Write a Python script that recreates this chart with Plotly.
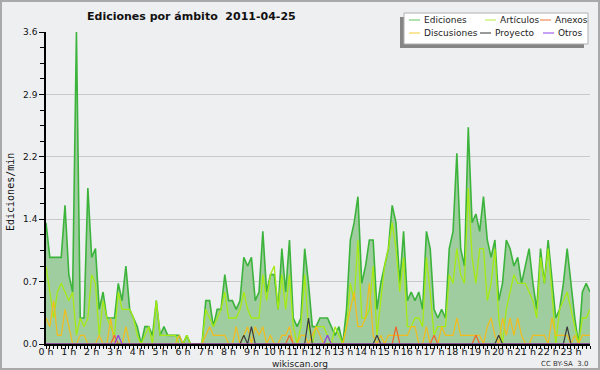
import plotly.graph_objects as go

# 10-minute slots, values in edits/min
ediciones = [1.4,1.0,1.0,1.0,1.0,1.6,0.8,0.6,3.6,0.3,0.3,1.8,1.0,1.1,0.4,0.6,0.3,0.3,0.3,0.7,0.5,0.9,0.4,0.3,
             0.2,0.0,0.2,0.2,0.1,0.5,0.1,0.2,0.1,0.1,0.1,0.1,0.0,0.1,0.0,0.0,0.0,0.0,0.5,0.5,0.2,0.4,0.4,0.8,
             0.5,0.5,0.4,0.5,1.0,0.9,1.0,0.5,0.6,1.3,0.6,0.8,0.8,0.4,1.1,0.6,1.2,0.3,0.2,0.3,1.1,0.7,0.2,0.2,
             0.3,0.3,0.3,0.2,0.1,0.2,0.0,0.4,1.2,1.4,1.7,0.7,0.9,1.2,1.2,0.4,0.7,0.9,1.1,1.6,1.4,0.7,1.3,0.5,
             0.6,0.5,0.6,0.4,1.3,1.1,0.4,0.3,0.4,0.3,1.1,1.3,2.2,1.1,0.9,2.5,1.4,1.5,1.3,1.7,1.2,1.0,1.2,0.5,
             0.7,1.2,1.1,0.9,1.0,0.7,0.9,1.1,0.7,0.4,1.1,0.7,1.2,0.7,0.3,0.4,0.7,1.1,0.7,0.3,0.0,0.6,0.7,0.6]
articulos = [0.9,0.6,0.3,0.6,0.7,0.6,0.5,0.6,0.1,0.3,0.2,0.3,0.8,0.7,0.1,0.5,0.3,0.2,0.1,0.6,0.4,0.4,0.4,0.3,
             0.1,0.0,0.1,0.2,0.0,0.5,0.1,0.1,0.1,0.1,0.1,0.0,0.0,0.1,0.0,0.0,0.0,0.0,0.4,0.3,0.2,0.3,0.4,0.6,
             0.3,0.3,0.3,0.4,0.6,0.4,0.3,0.3,0.3,0.8,0.5,0.8,0.9,0.4,0.8,0.4,0.8,0.2,0.0,0.2,0.8,0.2,0.0,0.2,
             0.2,0.2,0.1,0.0,0.2,0.1,0.0,0.2,0.7,0.5,1.2,0.3,0.3,0.4,0.9,0.1,0.5,0.9,1.1,1.4,1.1,0.6,1.0,0.2,
             0.2,0.3,0.3,0.2,1.0,0.6,0.1,0.2,0.2,0.2,0.8,0.7,1.1,0.8,0.7,1.8,1.0,0.7,1.1,1.1,0.5,0.7,1.1,0.3,
             0.0,0.4,0.6,0.8,0.7,0.7,0.7,0.6,0.5,0.3,1.0,0.7,1.1,0.6,0.0,0.4,0.5,0.6,0.4,0.2,0.0,0.3,0.3,0.4]
anexos = [0.0]*18 + [0.1] + [0.0]*45 + [0.1] + [0.0]*27 + [0.2] + [0.0]*9 + [0.1] + [0.0]*10 + [0.1] + [0.0]*30
discusiones = [0.3,0.2,0.5,0.1,0.1,0.4,0.2,0.0,0.0,0.1,0.1,0.0,0.0,0.0,0.1,0.0,0.0,0.3,0.0,0.0,0.0,0.2,0.0,0.0,
               0.0,0.0,0.0,0.0,0.0,0.0,0.0,0.0,0.0,0.0,0.0,0.1,0.0,0.0,0.0,0.0,0.0,0.0,0.1,0.2,0.1,0.1,0.1,0.1,
               0.0,0.0,0.2,0.0,0.1,0.2,0.0,0.2,0.1,0.2,0.0,0.1,0.0,0.0,0.1,0.1,0.2,0.0,0.0,0.1,0.1,0.0,0.1,0.2,
               0.1,0.0,0.0,0.0,0.0,0.0,0.0,0.2,0.4,0.6,0.2,0.2,0.3,0.7,0.1,0.0,0.1,0.0,0.1,0.1,0.1,0.1,0.1,0.1,
               0.2,0.2,0.0,0.0,0.2,0.0,0.0,0.0,0.2,0.1,0.1,0.1,0.3,0.1,0.1,0.1,0.1,0.1,0.1,0.0,0.2,0.3,0.1,0.0,
               0.3,0.1,0.3,0.1,0.3,0.1,0.0,0.0,0.1,0.1,0.1,0.1,0.0,0.3,0.1,0.1,0.1,0.1,0.0,0.1,0.0,0.1,0.1,0.1]
proyecto = [0.0]*52 + [0.1,0.0,0.2] + [0.0]*14 + [0.3] + [0.0]*17 + [0.1] + [0.0]*31 + [0.1] + [0.0]*17 + [0.2] + [0.0]*6
otros = [0.0]*19 + [0.1] + [0.0]*54 + [0.1] + [0.0]*69

hours = [i / 6 for i in range(len(ediciones))]
tick_hours = list(range(24))
tick_labels = [f"{h} h" for h in tick_hours]
y_ticks = [0, 0.72, 1.44, 2.16, 2.88, 3.6]
y_labels = ["0.0", "0.7", "1.4", "2.2", "2.9", "3.6"]

W, H = 600, 370
L, R, T, B = 46, 10, 32, 26
PW, PH = W - L - R, H - T - B


def px(x):
    return (x - L) / PW


def py(y):
    return (H - B - y) / PH


FONT = "DejaVu Sans, sans-serif"
BG = "#eeeff1"

fig = go.Figure()
fig.add_trace(go.Scatter(x=hours, y=ediciones, mode="lines", fill="tozeroy",
                         fillcolor="rgb(160,205,160)", line=dict(color="#3cb43c", width=1.6),
                         name="Ediciones"))
fig.add_trace(go.Scatter(x=hours, y=articulos, mode="lines", line=dict(color="#a6ea14", width=1.3),
                         name="Artículos"))
fig.add_trace(go.Scatter(x=hours, y=discusiones, mode="lines", line=dict(color="#f2bc1c", width=1.2),
                         name="Discusiones"))
fig.add_trace(go.Scatter(x=hours, y=anexos, mode="lines", line=dict(color="#f06428", width=1.2),
                         name="Anexos"))
fig.add_trace(go.Scatter(x=hours, y=proyecto, mode="lines", line=dict(color="#3a3a3a", width=1.2),
                         name="Proyecto"))
fig.add_trace(go.Scatter(x=hours, y=otros, mode="lines", line=dict(color="#9437e6", width=1.2),
                         name="Otros"))

fig.update_layout(
    width=W, height=H, margin=dict(l=L, r=R, t=T, b=B, autoexpand=False),
    paper_bgcolor=BG, plot_bgcolor=BG, showlegend=False,
    font=dict(family=FONT, size=10, color="#111"),
    xaxis=dict(range=[0, hours[-1]], tickvals=tick_hours, ticktext=tick_labels, tickangle=0,
               automargin=False, ticklabelstandoff=-5,
               showgrid=False, zeroline=False, showline=True, linecolor="#000", linewidth=1.5,
               ticks="outside", ticklen=3, tickcolor="#000", tickfont=dict(size=9.5, family=FONT),
               minor=dict(dtick=1/6, ticks="outside", ticklen=3, tickcolor="#000", showgrid=False)),
    yaxis=dict(range=[0, 3.6], tickvals=y_ticks, ticktext=y_labels, automargin=False,
               showgrid=True, gridcolor="#c9c9c9", gridwidth=1, zeroline=False,
               showline=True, linecolor="#000", linewidth=1.5,
               ticks="outside", ticklen=5, tickcolor="#000", tickfont=dict(size=9, family=FONT),
               minor=dict(dtick=0.18, ticks="outside", ticklen=4, tickcolor="#000", showgrid=False)),
)

shapes = []
# outer border
shapes.append(dict(type="rect", xref="paper", yref="paper", x0=px(1), x1=px(599), y0=py(1), y1=py(369),
                   line=dict(color="#a9a9a9", width=2), fillcolor="rgba(0,0,0,0)", layer="above"))
# legend shadow and box
shapes.append(dict(type="rect", xref="paper", yref="paper", x0=px(400), x1=px(584), y0=py(17), y1=py(48),
                   line=dict(width=0), fillcolor="#858585", layer="above"))
shapes.append(dict(type="rect", xref="paper", yref="paper", x0=px(404), x1=px(588), y0=py(13), y1=py(44),
                   line=dict(color="#b0b0b0", width=1), fillcolor="#ffffff", layer="above"))

legend_items = [
    ("Ediciones", "#7ccf7c", 409, 20),
    ("Artículos", "#c8f05a", 485, 20),
    ("Anexos", "#f08a5a", 540, 20),
    ("Discusiones", "#f5d45a", 409, 33),
    ("Proyecto", "#555555", 480, 33),
    ("Otros", "#a060ee", 543, 33),
]
annotations = []
for name, col, x0, y0 in legend_items:
    shapes.append(dict(type="line", xref="paper", yref="paper", x0=px(x0), x1=px(x0 + 11),
                       y0=py(y0), y1=py(y0), line=dict(color=col, width=1.2), layer="above"))
    annotations.append(dict(text=name, xref="paper", yref="paper", x=px(x0 + 13), y=py(y0),
                            xanchor="left", yanchor="middle", showarrow=False,
                            font=dict(family=FONT, size=9, color="#222")))

annotations.append(dict(text="<b>Ediciones por ámbito  2011-04-25</b>", xref="paper", yref="paper",
                        x=px(85), y=py(17), xanchor="left", yanchor="middle", showarrow=False,
                        font=dict(family=FONT, size=11, color="#111")))
annotations.append(dict(text="Ediciones/min", xref="paper", yref="paper", x=px(10), y=py(192),
                        xanchor="center", yanchor="middle", textangle=-90, showarrow=False,
                        font=dict(family="DejaVu Sans Mono, monospace", size=10, color="#111")))
annotations.append(dict(text="wikiscan.org", xref="paper", yref="paper", x=px(300), y=py(363.5),
                        xanchor="center", yanchor="middle", showarrow=False,
                        font=dict(family=FONT, size=9, color="#222")))
annotations.append(dict(text="CC BY-SA  3.0", xref="paper", yref="paper", x=px(590), y=py(364),
                        xanchor="right", yanchor="middle", showarrow=False,
                        font=dict(family=FONT, size=7, color="#333")))

fig.update_layout(shapes=shapes, annotations=annotations)
fig.write_html("out.html", config={"displayModeBar": False},
               post_script="document.body.style.margin='0';document.body.style.padding='0';"
                           "document.body.style.overflow='hidden';")
